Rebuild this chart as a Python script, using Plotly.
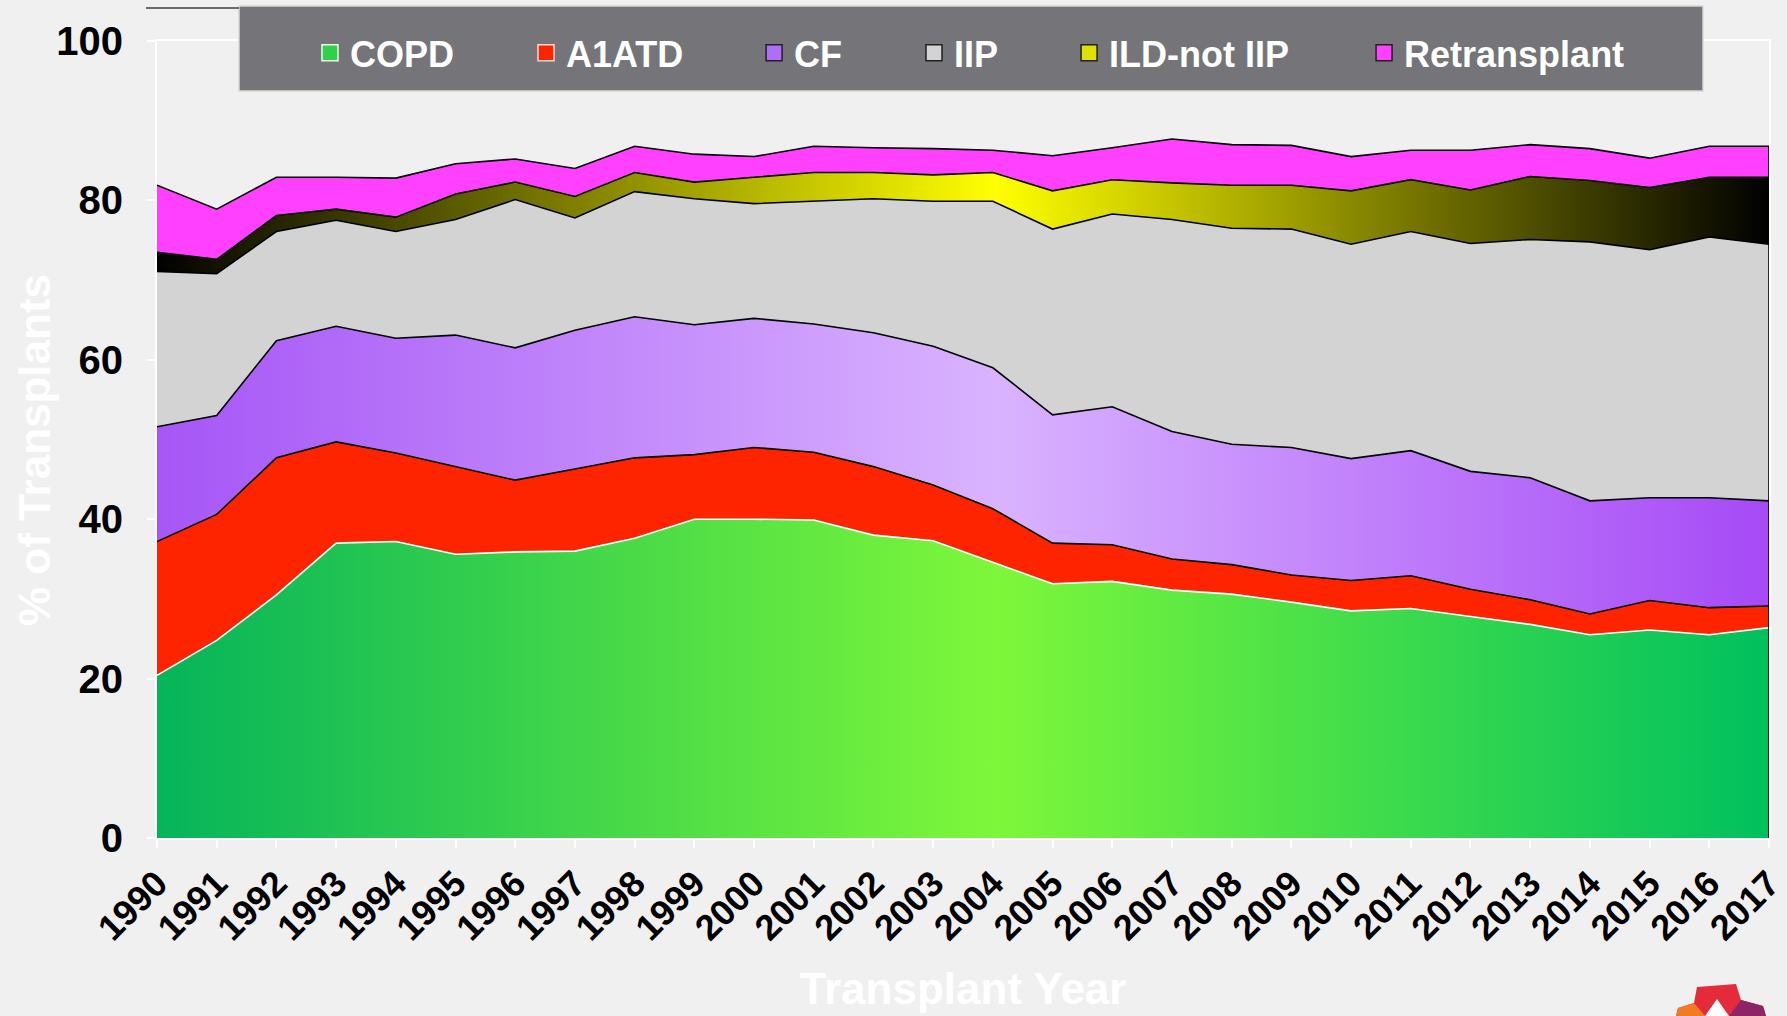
import plotly.graph_objects as go

# ---------------- data (percent of transplants) ----------------
years = list(range(1990, 2018))
copd = [20.4, 24.8, 30.5, 37.0, 37.2, 35.6, 35.9, 36.0, 37.6, 40.0, 40.0, 39.9, 38.0, 37.3,
        34.6, 31.9, 32.2, 31.1, 30.6, 29.6, 28.5, 28.8, 27.8, 26.8, 25.5, 26.1, 25.5, 26.4]
a1atd = [16.8, 15.8, 17.2, 12.7, 11.1, 11.0, 9.0, 10.3, 10.1, 8.1, 9.0, 8.5, 8.6, 7.0,
         6.7, 5.1, 4.6, 3.9, 3.7, 3.4, 3.8, 4.1, 3.4, 3.1, 2.6, 3.7, 3.4, 2.7]
cf = [14.4, 12.4, 14.7, 14.5, 14.4, 16.5, 16.6, 17.4, 17.7, 16.3, 16.2, 16.1, 16.8, 17.4,
      17.7, 16.1, 17.3, 16.0, 15.1, 16.0, 15.3, 15.7, 14.8, 15.3, 14.2, 12.9, 13.8, 13.2]
iip = [19.5, 17.8, 13.7, 13.3, 13.4, 14.5, 18.6, 14.1, 15.7, 15.8, 14.4, 15.4, 16.8, 18.2,
       20.9, 23.3, 24.2, 26.6, 27.1, 27.4, 26.9, 27.5, 28.6, 29.9, 32.5, 31.1, 32.7, 32.2]
ild_not_iip = [2.4, 1.8, 2.0, 1.4, 1.8, 3.2, 2.2, 2.7, 2.4, 2.1, 3.3, 3.6, 3.3, 3.3,
               3.6, 4.8, 4.3, 4.6, 5.4, 5.5, 6.7, 6.5, 6.7, 7.9, 7.7, 7.8, 7.5, 8.4]
retransplant = [8.4, 6.3, 4.8, 4.0, 4.9, 3.8, 2.9, 3.5, 3.3, 3.5, 2.6, 3.3, 3.1, 3.3,
                2.8, 4.4, 4.0, 5.5, 5.1, 5.0, 4.3, 3.7, 5.0, 4.0, 4.0, 3.7, 3.9, 3.9]

series_names = ["COPD", "A1ATD", "CF", "IIP", "ILD-not IIP", "Retransplant"]
series_values = [copd, a1atd, cf, iip, ild_not_iip, retransplant]
y_ticks = [0, 20, 40, 60, 80, 100]
x_title = "Transplant Year"
y_title = "% of Transplants"

# ---------------- styles ----------------
FONT = "Liberation Sans, Arial, sans-serif"
BG = "#f0f0f1"
fills = [
    [[0, "#05b45a"], [0.52, "#7ef73a"], [1, "#00c05e"]],
    [[0, "#ff2400"], [1, "#ff2400"]],
    [[0, "#a656f6"], [0.52, "#d9b3ff"], [1, "#a64af6"]],
    [[0, "#d3d3d3"], [1, "#d3d3d3"]],
    [[0, "#000000"], [0.52, "#ffff00"], [1, "#000000"]],
    [[0, "#ff40ff"], [1, "#ff40ff"]],
]
line_colors = ["#ffffff", "#000000", "#000000", "#000000", "#000000", "#000000"]
swatch_colors = ["#2fd04a", "#ff2400", "#b06ef8", "#d3d3d3", "#e0e000", "#ff40ff"]
swatch_borders = ["#e8ffe8", "#ffd8d0", "#202020", "#202020", "#202020", "#202020"]
legend_x = [0.0949, 0.2289, 0.3704, 0.4696, 0.5658, 0.7488]

fig = go.Figure()
for i, (name, vals) in enumerate(zip(series_names, series_values)):
    fig.add_trace(go.Scatter(
        x=years, y=vals, name=name, stackgroup="one", mode="lines",
        line=dict(color=line_colors[i], width=1.6),
        fillgradient=dict(type="horizontal", colorscale=fills[i]),
        legendgroup=name, showlegend=False,
        hovertemplate="%{x}: %{y:.1f}%<extra>" + name + "</extra>",
    ))

legends = {}
for i, name in enumerate(series_names):
    key = "legend" if i == 0 else f"legend{i + 1}"
    fig.add_trace(go.Scatter(
        x=[None], y=[None], mode="markers", name=name, legendgroup=name,
        legend=key, showlegend=True, hoverinfo="skip",
        marker=dict(symbol="square", size=17, color=swatch_colors[i],
                    line=dict(color=swatch_borders[i], width=1.5)),
    ))
    legends[key] = dict(
        x=legend_x[i], y=0.985, xanchor="left", yanchor="middle",
        orientation="h", bgcolor="rgba(0,0,0,0)", borderwidth=0,
        font=dict(family=FONT, size=36, color="white", weight="bold"),
    )

# right edge outline of the stacked area
total_last = sum(v[-1] for v in series_values)
fig.add_shape(type="line", x0=years[-1], x1=years[-1], y0=0, y1=total_last,
              xref="x", yref="y", line=dict(color="black", width=1.6))

# legend box and decorations (pixel -> paper helpers)
L, R, T, B = 157, 1769, 41, 838
def px(X):
    return (X - L) / (R - L)
def py(Y):
    return (B - Y) / (B - T)

fig.add_shape(type="rect", xref="paper", yref="paper",
              x0=px(239), x1=px(1703), y0=py(91), y1=py(6),
              fillcolor="#747479", line=dict(color="#d6d6d8", width=1.5), layer="above")
fig.add_shape(type="line", xref="paper", yref="paper",
              x0=px(146), x1=px(239), y0=py(8), y1=py(8),
              line=dict(color="#6a6a6e", width=2), layer="above")

def path(points):
    return "M " + " L ".join(f"{px(a):.5f},{py(b):.5f}" for a, b in points) + " Z"

fig.add_shape(type="path", xref="paper", yref="paper",
              path=path([(1697, 987), (1736, 984), (1741, 1000), (1763, 1006), (1766, 1016),
                         (1676, 1016), (1678, 1008), (1694, 1003)]),
              fillcolor="#e52a3c", line=dict(width=0))
fig.add_shape(type="path", xref="paper", yref="paper",
              path=path([(1676, 1016), (1678, 1008), (1694, 1003), (1705, 1016)]),
              fillcolor="#f47a22", line=dict(width=0))
fig.add_shape(type="path", xref="paper", yref="paper",
              path=path([(1729, 1016), (1741, 1000), (1763, 1006), (1766, 1016)]),
              fillcolor="#8c2465", line=dict(width=0))
fig.add_shape(type="path", xref="paper", yref="paper",
              path=path([(1717, 999), (1705, 1016), (1729, 1016)]),
              fillcolor="#ffffff", line=dict(width=0))

# y-axis title placed right against the tick labels
fig.add_annotation(
    text=y_title, xref="paper", yref="paper", x=px(34), y=py(450),
    xanchor="center", yanchor="middle", textangle=-90, showarrow=False,
    font=dict(family=FONT, size=44, color="white", weight="bold"),
)

fig.update_layout(
    width=1787, height=1016, autosize=False,
    margin=dict(l=L, r=1787 - R, t=T, b=1016 - B, autoexpand=False),
    paper_bgcolor=BG, plot_bgcolor="rgba(0,0,0,0)",
    font=dict(family=FONT, color="black"),
    **legends,
)
fig.update_yaxes(
    range=[0, 100], tickvals=y_ticks, showgrid=False, zeroline=False, automargin=False,
    showline=True, linecolor="white", linewidth=2, mirror=True,
    ticks="outside", tickcolor="white", ticklen=8, tickwidth=1.5,
    ticklabelstandoff=16,
    tickfont=dict(family=FONT, size=40, color="black", weight="bold"),
)
fig.update_xaxes(
    range=[years[0], years[-1]], tickvals=years, showgrid=False, zeroline=False,
    automargin=False,
    showline=True, linecolor="white", linewidth=2, mirror=True,
    ticks="outside", tickcolor="white", ticklen=8, tickwidth=1.5,
    tickangle=-45, ticklabelstandoff=0, ticklabeloverflow="allow",
    tickfont=dict(family=FONT, size=36, color="black", weight="bold"),
    title=dict(text=x_title, standoff=26,
               font=dict(family=FONT, size=44, color="white", weight="bold")),
)

fig.write_html(
    "out.html",
    config={"responsive": False, "displayModeBar": False},
    post_script=("document.body.style.margin='0';document.body.style.overflow='hidden';"
                 "document.body.style.background='" + BG + "';"),
)
